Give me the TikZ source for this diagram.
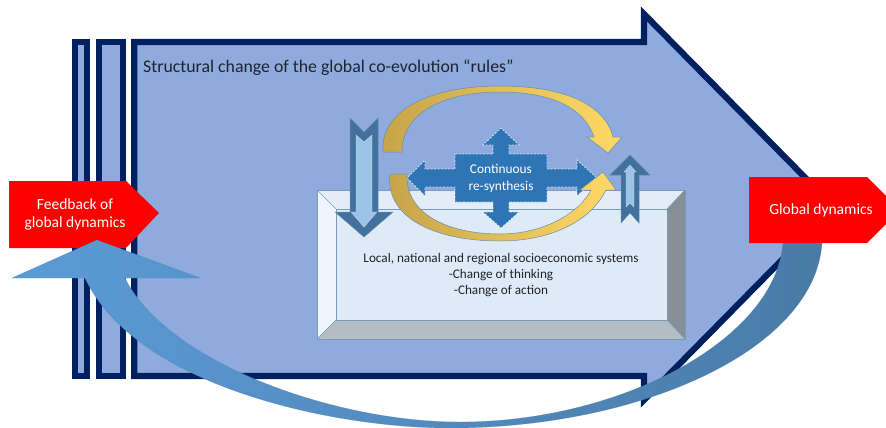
\documentclass[tikz,border=0pt]{standalone}
\usepackage{fontspec}
\setmainfont{Carlito}
\definecolor{bigfill}{HTML}{8FAADC}
\definecolor{navy}{HTML}{002060}
\definecolor{redbox}{HTML}{FF0000}
\definecolor{crossblue}{HTML}{2E75B6}
\definecolor{darkarrow}{HTML}{41719C}
\definecolor{lightarrow}{HTML}{9DC3E6}
\definecolor{golddark}{HTML}{C5A44A}
\definecolor{goldlight}{HTML}{FFD966}
\definecolor{curveleft}{HTML}{5B9BD5}
\definecolor{curveright}{HTML}{4A7BA7}
\definecolor{facecol}{HTML}{DEEAF6}
\definecolor{topbev}{HTML}{E4EDF7}
\definecolor{leftbev}{HTML}{EEF4FB}
\definecolor{rightbev}{HTML}{868F98}
\definecolor{botbev}{HTML}{B4BDC6}
\definecolor{txtdark}{HTML}{1E2430}
\begin{document}
\begin{tikzpicture}[x=1pt,y=-1pt,
  navyline/.style={draw=navy,line width=6.2pt,line join=miter},
  bevelline/.style={draw=darkarrow!70,line width=0.6pt},
  blockarrow/.style={fill=darkarrow,draw=darkarrow!80,line width=0.5pt},
  innerarrow/.style={fill=lightarrow,draw=lightarrow!70!white,line width=0.4pt},
  goldarrow/.style={left color=golddark,right color=goldlight,draw=darkarrow!80,line width=0.5pt},
  redshape/.style={fill=redbox,draw=none},
  whitetext/.style={text=white,align=center,inner sep=0pt},
  darktext/.style={text=txtdark,align=center,inner sep=0pt}]
\useasboundingbox (0,0) rectangle (886,428);
\clip (0,0) rectangle (886,428);

% big arrow and bars
\draw[navyline,fill=bigfill] (134.3,42) -- (644,42) -- (644,14) -- (834,207) -- (644,400) -- (644,376) -- (134.3,376) -- cycle;
\draw[navyline,fill=bigfill] (74.7,42) rectangle (87,376);
\draw[navyline,fill=bigfill] (98.7,42) rectangle (122.8,376);

\node[darktext,anchor=base west,font=\fontsize{17.8}{21}\selectfont] (title) at (143,73) {Structural change of the global co-evolution “rules”};

% bevel box
\fill[topbev] (317,190) -- (685,190) -- (667,209) -- (336,209) -- cycle;
\fill[leftbev] (317,190) -- (336,209) -- (336,320) -- (317,339) -- cycle;
\fill[rightbev] (685,190) -- (685,339) -- (667,320) -- (667,209) -- cycle;
\fill[botbev] (317,339) -- (685,339) -- (667,320) -- (336,320) -- cycle;
\fill[facecol] (336,209) rectangle (667,320);
\draw[bevelline] (317,190) rectangle (685,339);
\draw[bevelline] (336,209) rectangle (667,320);
\draw[bevelline] (317,190) -- (336,209) (685,190) -- (667,209) (317,339) -- (336,320) (685,339) -- (667,320);

\node[darktext,font=\fontsize{13.2}{16}\selectfont] (sys) at (501,275) {Local, national and regional socioeconomic systems\\-Change of thinking\\-Change of action};

% blue down arrow (left)
\draw[blockarrow] (350,118) -- (364,132) -- (378,118) -- (378,212) -- (393,212) -- (364,237) -- (335,212) -- (350,212) -- cycle;
\draw[innerarrow] (356,135) -- (364,142) -- (372,135) -- (372,212) -- (377,212) -- (364,227) -- (351,212) -- (356,212) -- cycle;

% blue up arrow (right)
\draw[blockarrow] (621,223) -- (630,213) -- (639,223) -- (639,175) -- (650,175) -- (630,155) -- (610,175) -- (621,175) -- cycle;
\draw[innerarrow] (626,207) -- (630,203) -- (634,207) -- (634,172) -- (636,172) -- (630,165) -- (624,172) -- (626,172) -- cycle;

% cross arrow
\draw[fill=crossblue,draw=white,draw opacity=0.75,line width=0.8pt,dash pattern=on 2pt off 1.5pt]
 (455,154) -- (493,154) -- (493,145) -- (483,145) -- (501,128) -- (519,145) -- (509,145) -- (509,154)
 -- (547,154) -- (547,169) -- (577,169) -- (577,160) -- (597,178) -- (577,196) -- (577,187) -- (547,187)
 -- (547,202) -- (509,202) -- (509,212) -- (519,212) -- (501,228) -- (483,212) -- (493,212) -- (493,202)
 -- (455,202) -- (455,187) -- (425,187) -- (425,196) -- (407,178) -- (425,160) -- (425,169) -- (455,169) -- cycle;
\node[whitetext,font=\fontsize{13.4}{17}\selectfont] (cont) at (501,178) {Continuous\\re-synthesis};

% yellow circular arrows
\draw[goldarrow] (383,152) .. controls (380,110) and (430,86) .. (500,86) .. controls (565,86) and (605,105) .. (613,137)
 -- (622,137) -- (608,153) -- (587,137) -- (594,137) .. controls (585,110) and (555,92) .. (500,92)
 .. controls (440,92) and (402,115) .. (402,152) -- cycle;
\draw[goldarrow] (407,174) .. controls (405,215) and (450,234) .. (500,234) .. controls (545,234) and (580,212) .. (591,190)
 -- (580,190) -- (603,172) -- (616,190) -- (606,190) .. controls (590,222) and (550,241) .. (500,241)
 .. controls (430,241) and (385,215) .. (390,174) -- cycle;

% left red box
\fill[redshape] (9,181) -- (126,181) -- (159,213) -- (126,248) -- (9,248) -- cycle;
\node[whitetext,font=\fontsize{15.5}{18}\selectfont] (fb) at (75,214) {Feedback of\\global dynamics};

% curved feedback arrow
\path[left color=curveleft,right color=curveright,draw=curveleft!85!black,draw opacity=0.5,line width=0.4pt]
 (783,243) .. controls (775,340) and (620,422) .. (460,422) .. controls (330,422) and (165,360) .. (125,278)
 -- (200,278) -- (97,240) -- (12,278) -- (85,278)
 .. controls (135,385) and (330,428) .. (450,428) .. controls (640,428) and (815,350) .. (822,243) -- cycle;

% right red box
\fill[redshape] (749,177) -- (867,177) -- (900,210) -- (867,243) -- (749,243) -- cycle;
\node[whitetext,font=\fontsize{15.5}{18}\selectfont] (gd) at (821,210) {Global dynamics};
\end{tikzpicture}
\end{document}
